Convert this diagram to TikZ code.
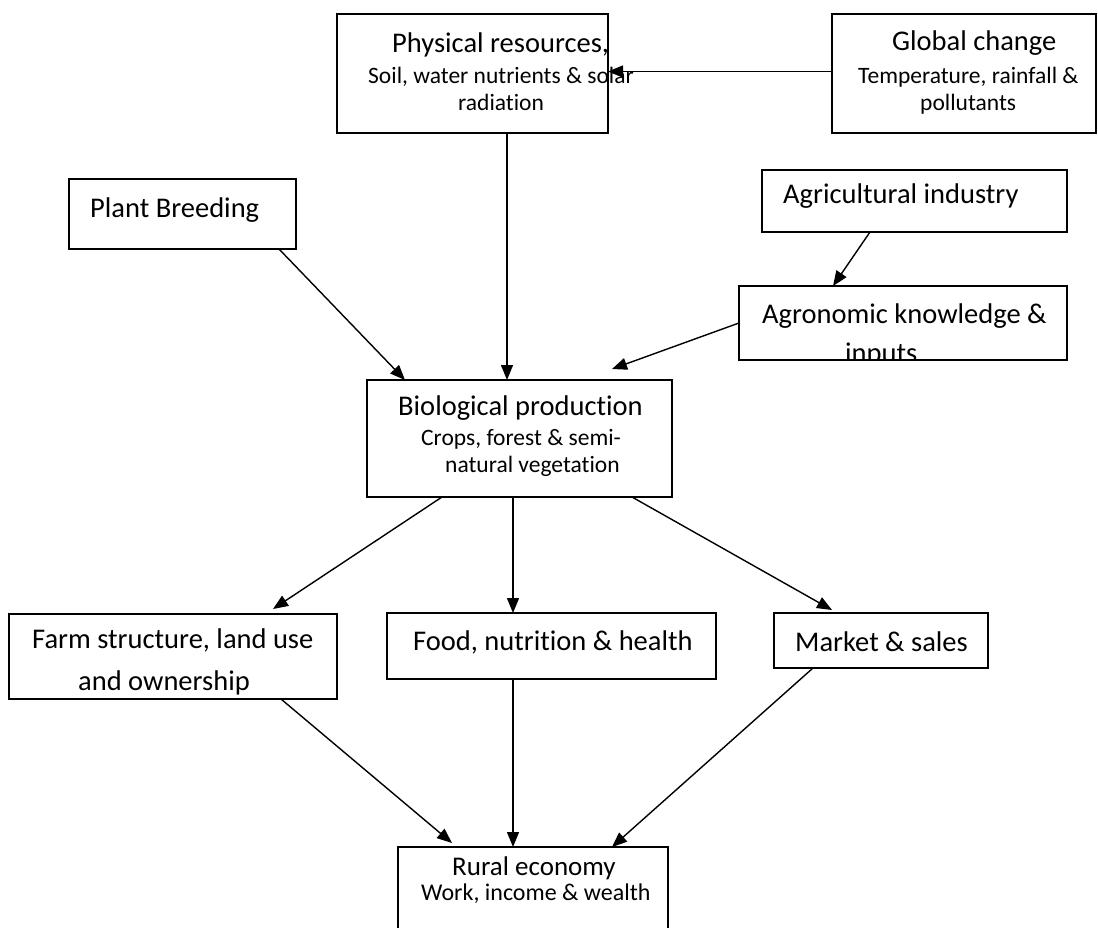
\documentclass[tikz,border=0pt]{standalone}
\usepackage{fontspec}
\setmainfont{Carlito}[Ligatures=NoCommon]
\usetikzlibrary{arrows.meta,calc}

\tikzset{
  box/.style={draw, line width=1.8pt, rectangle, inner sep=0pt, outer sep=0pt, anchor=north west},
  big/.style={anchor=base west, inner sep=0pt, font=\fontsize{28.5}{34}\selectfont},
  small/.style={anchor=base west, inner sep=0pt, font=\fontsize{23.5}{28}\selectfont},
  arr/.style={line width=1.4pt, -{Triangle[length=15pt,width=12pt]}},
}

\begin{document}
\begin{tikzpicture}[x=1pt,y=-1pt]
\useasboundingbox (0,0) rectangle (1098,927);

% boxes
\node[box, minimum width=271pt, minimum height=119pt] (phys)  at (337,14)  {};
\node[box, minimum width=264pt, minimum height=119pt] (glob)  at (832,14)  {};
\node[box, minimum width=227pt, minimum height=70pt]  (plant) at (69,179)  {};
\node[box, minimum width=305pt, minimum height=62pt]  (agind) at (762,170) {};
\node[box, minimum width=328pt, minimum height=74pt]  (agron) at (739,286) {};
\node[box, minimum width=305pt, minimum height=117pt] (bio)   at (367,380) {};
\node[box, minimum width=328pt, minimum height=85pt]  (farm)  at (9,614)   {};
\node[box, minimum width=329pt, minimum height=66pt]  (food)  at (387,613) {};
\node[box, minimum width=214pt, minimum height=55pt]  (mkt)   at (774,613) {};
\node[box, minimum width=270pt, minimum height=120pt] (rural) at (398,847) {};

% labels
\node[big]   (physA) at (392,52)  {Physical resources,};
\node[small] (physB) at (368,83)  {Soil, water nutrients \& solar};
\node[small] (physC) at (458,110) {radiation};

\node[big]   (globA) at (892,50)  {Global change};
\node[small] (globB) at (858,83)  {Temperature, rainfall \&};
\node[small] (globC) at (920,110) {pollutants};

\node[big]   (plantA) at (90,217) {Plant Breeding};
\node[big]   (agindA) at (783,203) {Agricultural industry};

\node[big]   (agronA) at (762,323) {Agronomic knowledge \&};
\begin{scope}
  \clip (agron.south west) rectangle (agron.north east);
  \node[big] (agronB) at (845,362) {inputs};
\end{scope}

\node[big]   (bioA) at (398,415) {Biological production};
\node[small] (bioB) at (421,445) {Crops, forest \& semi-};
\node[small] (bioC) at (445,472) {natural vegetation};

\node[big]   (farmA) at (32,648) {Farm structure, land use};
\begin{scope}
  \clip (farm.south west) rectangle (farm.north east);
  \node[big] (farmB) at (78,690) {and ownership};
\end{scope}

\node[big]   (foodA) at (413,650) {Food, nutrition \& health};
\node[big]   (mktA)  at (795,651) {Market \& sales};

\node[big, font=\fontsize{27}{32}\selectfont]   (ruralA) at (452,875) {Rural economy};
\node[small, font=\fontsize{24}{29}\selectfont] (ruralB) at (421,900) {Work, income \& wealth};

% connectors
\draw[arr] ($(glob.west)+(0,-2)$) -- ($(phys.east)+(0,-2)$);
\draw[arr] ($(phys.south)+(34.5,0)$) -- ($(bio.north)+(-12.5,0)$);
\draw[arr] ($(plant.south east)+(-17,0)$) -- ($(bio.north west)+(38,0)$);
\draw[arr] ($(agind.south west)+(108,0)$) -- ($(agron.north west)+(94,0)$);
\coordinate (bioIn) at ($(bio.north east)+(-60,-11)$);
\draw[arr] ($(agron.north west)+(0,37)$) -- (bioIn);
\draw[arr] ($(bio.south west)+(75,0)$) -- ($(farm.north west)+(264,-5)$);
\draw[arr] ($(bio.south west)+(146,0)$) -- ($(food.north west)+(126,0)$);
\draw[arr] ($(bio.south west)+(265,0)$) -- ($(mkt.north west)+(58,-3)$);
\draw[arr] ($(farm.south west)+(272,0)$) -- ($(rural.north west)+(54,-4)$);
\draw[arr] ($(food.south west)+(126,0)$) -- ($(rural.north west)+(115,0)$);
\draw[arr] ($(mkt.south west)+(39,0)$) -- ($(rural.north west)+(214,0)$);
\end{tikzpicture}
\end{document}
